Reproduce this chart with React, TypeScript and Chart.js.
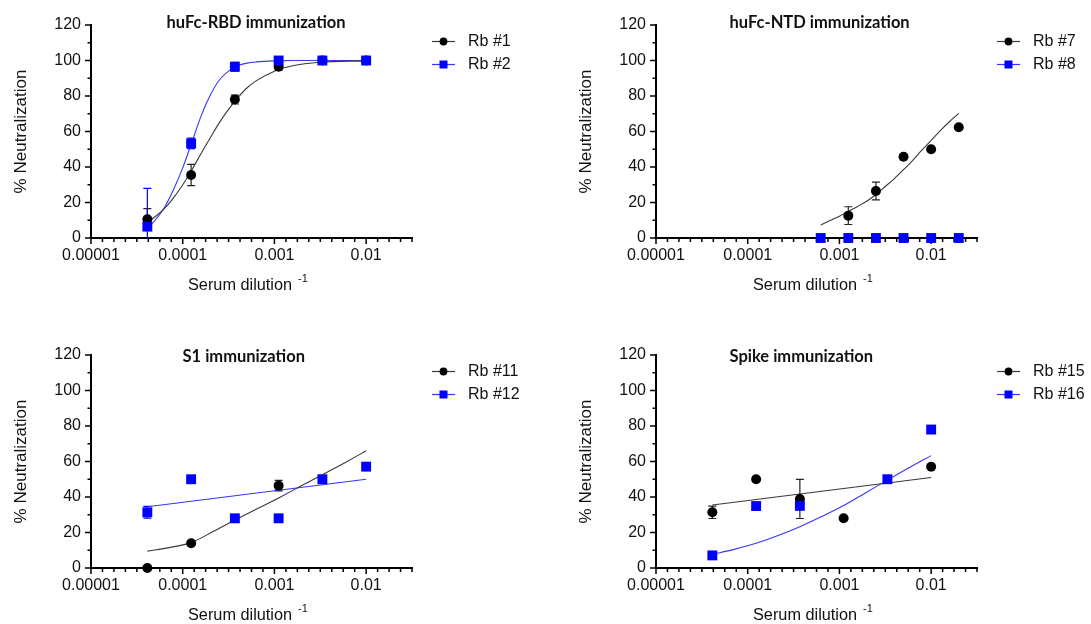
import React, { useEffect, useRef } from 'react';
import { Chart, registerables } from 'chart.js';

Chart.register(...registerables);

// ---------------- data ----------------
const dilution3 = [4.115e-5, 1.235e-4, 3.704e-4, 1.111e-3, 3.333e-3, 1.0e-2];
const dilution2 = [6.25e-4, 1.25e-3, 2.5e-3, 5.0e-3, 1.0e-2, 2.0e-2];

const decadeTicks = [1e-5, 1e-4, 1e-3, 1e-2];
const decadeLabels = ['0.00001', '0.0001', '0.001', '0.01'];
const yTickLabels = ['0', '20', '40', '60', '80', '100', '120'];

const titleRbd = 'huFc-RBD immunization';
const titleNtd = 'huFc-NTD immunization';
const titleS1 = 'S1 immunization';
const titleSpike = 'Spike immunization';

// huFc-RBD
const rb1 = [10.5, 35.5, 78, 96.5, 100, 100];
const rb1Err = [6, 6, 2.5, 2, 0, 0];
const rb2 = [6.4, 53.3, 96.5, 100, 100, 100];
const rb2Err = [21.6, 3, 2.5, 0, 0, 0];
const fitXRbd = [4.115e-5, 5.0e-5, 6.3e-5, 7.9e-5, 1.0e-4, 1.26e-4, 1.58e-4, 2.0e-4, 2.51e-4, 3.16e-4, 3.98e-4, 5.01e-4, 6.31e-4, 1.0e-3, 1.58e-3, 3.16e-3, 1.0e-2];
const fitRb1 = [9, 12, 16.5, 22.5, 30, 38.5, 47.5, 56.5, 65, 72.5, 79, 84.5, 88.5, 94, 97, 99, 99.8];
const fitRb2 = [5.5, 10, 17, 27, 39.5, 54, 68.5, 80.5, 89, 94, 97, 98.5, 99.2, 99.8, 100, 100, 100];

// huFc-NTD
const rb7 = [null, 12.6, 26.5, 45.8, 50, 62.4];
const rb7Err = [0, 5, 5, 0, 0, 0];
const rb8 = [0, 0, 0, 0, 0, 0];
const rb8Err = [0, 0, 0, 0, 0, 0];
const fitXNtd = [6.25e-4, 7.9e-4, 1.0e-3, 1.25e-3, 1.58e-3, 2.0e-3, 2.5e-3, 3.16e-3, 3.98e-3, 5.0e-3, 6.3e-3, 7.9e-3, 1.0e-2, 1.26e-2, 1.58e-2, 2.0e-2];
const fitRb7 = [7.3, 9.8, 12.3, 15, 17.8, 20.8, 24.5, 29, 33.5, 38.5, 43.8, 49.5, 55, 60.5, 65.5, 70.2];

// S1
const rb11 = [0, 13.9, null, 46.4, null, null];
const rb11Err = [0, 0, 0, 3, 0, 0];
const rb12 = [31.4, 50, 28, 28, 50, 57.1];
const rb12Err = [3.3, 0, 0, 0, 0, 0];
const fitXGrid = [4.115e-5, 7.1e-5, 1.235e-4, 2.14e-4, 3.704e-4, 6.4e-4, 1.111e-3, 1.92e-3, 3.333e-3, 5.8e-3, 1.0e-2];
const fitRb11 = [9.5, 11.5, 14.3, 20.5, 27, 33.2, 39.5, 46, 52.5, 59.2, 66];
const fitXLine = [4.115e-5, 1.0e-2];
const fitRb12 = [34.5, 50];

// Spike
const rb15 = [31.4, 50, 38.9, 28, null, 57];
const rb15Err = [3.5, 0, 11, 0, 0, 0];
const rb16 = [7.1, 34.9, 35, null, 50, 78];
const rb16Err = [0, 0, 0, 0, 0, 0];
const fitRb15 = [35.5, 51];
const fitRb16 = [7.7, 10.5, 13.9, 18.3, 23.3, 29, 35.2, 42.3, 49.5, 56.6, 63.3];

// ---------------- styling / layout ----------------
const X_MIN = 1e-5;
const X_MAX = Math.pow(10, -1.5);
const AREA = { left: 91, right: 412, top: 25, bottom: 238 };
const Y_BOX = 60;
const X_BOX = 40;
const SANS = "'Liberation Sans', Arial, sans-serif";
const TEXT = '#111';
const BLACK = '#000000';
const BLUE = '#0000ff';
const BLACK_FIT = '#3a3a3a';
const BLUE_FIT = '#3535ff';

type Series = {
  label: string;
  x: number[];
  y: (number | null)[];
  err: number[];
  marker: 'circle' | 'rect';
  color: string;
  fitX?: number[];
  fitY?: number[];
  fitColor: string;
};

type PanelCfg = {
  title: string;
  titleX: number;
  titleY: number;
  left: number;
  top: number;
  w: number;
  h: number;
  series: Series[];
};

const panels: PanelCfg[] = [
  {
    title: titleRbd, titleX: 166.5, titleY: 22.5, left: 0, top: 0, w: 565, h: 330,
    series: [
      { label: 'Rb #1', x: dilution3, y: rb1, err: rb1Err, marker: 'circle', color: BLACK, fitX: fitXRbd, fitY: fitRb1, fitColor: BLACK_FIT },
      { label: 'Rb #2', x: dilution3, y: rb2, err: rb2Err, marker: 'rect', color: BLUE, fitX: fitXRbd, fitY: fitRb2, fitColor: BLUE_FIT },
    ],
  },
  {
    title: titleNtd, titleX: 164.5, titleY: 22.5, left: 565, top: 0, w: 526, h: 330,
    series: [
      { label: 'Rb #7', x: dilution2, y: rb7, err: rb7Err, marker: 'circle', color: BLACK, fitX: fitXNtd, fitY: fitRb7, fitColor: BLACK_FIT },
      { label: 'Rb #8', x: dilution2, y: rb8, err: rb8Err, marker: 'rect', color: BLUE, fitColor: BLUE_FIT },
    ],
  },
  {
    title: titleS1, titleX: 182.5, titleY: 26.5, left: 0, top: 330, w: 565, h: 294,
    series: [
      { label: 'Rb #11', x: dilution3, y: rb11, err: rb11Err, marker: 'circle', color: BLACK, fitX: fitXGrid, fitY: fitRb11, fitColor: BLACK_FIT },
      { label: 'Rb #12', x: dilution3, y: rb12, err: rb12Err, marker: 'rect', color: BLUE, fitX: fitXLine, fitY: fitRb12, fitColor: BLUE_FIT },
    ],
  },
  {
    title: titleSpike, titleX: 164.5, titleY: 26.5, left: 565, top: 330, w: 526, h: 294,
    series: [
      { label: 'Rb #15', x: dilution3, y: rb15, err: rb15Err, marker: 'circle', color: BLACK, fitX: fitXLine, fitY: fitRb15, fitColor: BLACK_FIT },
      { label: 'Rb #16', x: dilution3, y: rb16, err: rb16Err, marker: 'rect', color: BLUE, fitX: fitXGrid, fitY: fitRb16, fitColor: BLUE_FIT },
    ],
  },
];

const isDecade = (v: number) => decadeTicks.some((d) => Math.abs(Math.log10(v) - Math.log10(d)) < 1e-6);

function buildXTicks() {
  const ticks: { value: number; major: boolean }[] = [];
  for (let e = -5; e <= -2; e++) {
    for (let k = 0; k < 8; k++) {
      const lg = e + k / 8;
      if (lg > -1.5 + 1e-9) break;
      ticks.push({ value: Math.pow(10, lg), major: k === 0 });
    }
  }
  ticks.push({ value: X_MAX, major: false });
  return ticks;
}

// ---------------- plugins ----------------
const axisTicksPlugin = {
  id: 'axisTicks',
  beforeDatasetsDraw(chart: any) {
    const { ctx, chartArea } = chart;
    const xs = chart.scales.x;
    const ys = chart.scales.y;
    ctx.save();
    ctx.strokeStyle = '#000';
    ctx.lineWidth = 1.5;
    ctx.beginPath();
    xs.ticks.forEach((t: any) => {
      const px = xs.getPixelForValue(t.value);
      const len = isDecade(t.value) ? 6 : 4;
      ctx.moveTo(px, chartArea.bottom);
      ctx.lineTo(px, chartArea.bottom + len);
    });
    ys.ticks.forEach((t: any) => {
      const py = ys.getPixelForValue(t.value);
      const len = t.value % 20 === 0 ? 6 : 3.5;
      ctx.moveTo(chartArea.left - len, py);
      ctx.lineTo(chartArea.left, py);
    });
    ctx.stroke();
    ctx.restore();
  },
};

const errorBarsPlugin = {
  id: 'errorBars',
  beforeDatasetsDraw(chart: any) {
    const { ctx, chartArea } = chart;
    const xs = chart.scales.x;
    const ys = chart.scales.y;
    ctx.save();
    ctx.beginPath();
    ctx.rect(chartArea.left, chartArea.top - 10, chartArea.right - chartArea.left, chartArea.bottom - chartArea.top + 10);
    ctx.clip();
    chart.data.datasets.forEach((ds: any) => {
      if (!ds.errColor) return;
      ctx.strokeStyle = ds.errColor;
      ctx.lineWidth = 1.2;
      ds.data.forEach((p: any) => {
        if (!p.e) return;
        const px = xs.getPixelForValue(p.x);
        const top = ys.getPixelForValue(p.y + p.e);
        const bot = ys.getPixelForValue(p.y - p.e);
        ctx.beginPath();
        ctx.moveTo(px, top);
        ctx.lineTo(px, bot);
        ctx.moveTo(px - 4, top);
        ctx.lineTo(px + 4, top);
        ctx.moveTo(px - 4, bot);
        ctx.lineTo(px + 4, bot);
        ctx.stroke();
      });
    });
    ctx.restore();
  },
};

const decorPlugin = {
  id: 'decor',
  afterDraw(chart: any, _args: any, opts: any) {
    const { ctx, chartArea } = chart;
    ctx.save();
    ctx.fillStyle = TEXT;
    // title
    ctx.font = "bold 16.5px Lato, 'Open Sans', sans-serif";
    ctx.textAlign = 'left';
    ctx.textBaseline = 'middle';
    ctx.fillText(opts.title, opts.titleX, opts.titleY);
    // y title
    ctx.save();
    ctx.translate(21, (chartArea.top + chartArea.bottom) / 2);
    ctx.rotate(-Math.PI / 2);
    ctx.textAlign = 'center';
    ctx.font = `17px ${SANS}`;
    ctx.fillText('% Neutralization', 0, 0);
    ctx.restore();
    // x title with superscript
    ctx.textAlign = 'left';
    ctx.font = `16.3px ${SANS}`;
    const main = 'Serum dilution';
    ctx.fillText(main, 188, 286);
    const mw = ctx.measureText(main).width;
    ctx.font = `11px ${SANS}`;
    ctx.fillText('-1', 188 + mw + 6, 279);
    // legend
    const rows = [41.5, 64.5];
    (opts.legend || []).forEach((item: any, i: number) => {
      const y = rows[i];
      ctx.strokeStyle = item.lineColor;
      ctx.lineWidth = 1.2;
      ctx.beginPath();
      ctx.moveTo(432, y);
      ctx.lineTo(455, y);
      ctx.stroke();
      ctx.fillStyle = item.color;
      if (item.marker === 'circle') {
        ctx.beginPath();
        ctx.arc(443.5, y, 3.9, 0, Math.PI * 2);
        ctx.fill();
      } else {
        ctx.fillRect(443.5 - 4, y - 4, 8, 8);
      }
      ctx.fillStyle = TEXT;
      ctx.font = `16px ${SANS}`;
      ctx.textBaseline = 'middle';
      ctx.fillText(item.label, 468, y);
    });
    ctx.restore();
  },
};

function buildConfig(cfg: PanelCfg): any {
  const datasets: any[] = [];
  cfg.series.forEach((s, si) => {
    if (s.fitX && s.fitY) {
      datasets.push({
        type: 'line',
        label: s.label + ' fit',
        data: s.fitX.map((x, j) => ({ x, y: s.fitY![j] })),
        borderColor: s.fitColor,
        borderWidth: 1.1,
        pointRadius: 0,
        fill: false,
        cubicInterpolationMode: 'monotone',
        order: 10,
        clip: false,
      });
    }
    const pts: any[] = [];
    s.x.forEach((x, j) => {
      const y = s.y[j];
      if (y === null || y === undefined) return;
      pts.push({ x, y, e: s.err[j] || 0 });
    });
    datasets.push({
      type: 'scatter',
      label: s.label,
      data: pts,
      pointStyle: s.marker,
      pointRadius: s.marker === 'circle' ? 5 : 7,
      backgroundColor: s.color,
      borderColor: s.color,
      pointBorderWidth: 0,
      showLine: false,
      order: si === 0 ? 2 : 1,
      clip: false,
      errColor: s.marker === 'circle' ? '#222' : BLUE,
    });
  });

  return {
    type: 'scatter',
    data: { datasets },
    options: {
      responsive: false,
      animation: false,
      devicePixelRatio: 1,
      events: [],
      layout: {
        padding: {
          left: AREA.left - Y_BOX,
          right: cfg.w - AREA.right,
          top: AREA.top,
          bottom: cfg.h - AREA.bottom - X_BOX,
        },
      },
      plugins: {
        legend: { display: false },
        title: { display: false },
        tooltip: { enabled: false },
        decor: {
          title: cfg.title,
          titleX: cfg.titleX,
          titleY: cfg.titleY,
          legend: cfg.series.map((s) => ({
            label: s.label,
            color: s.color,
            lineColor: s.fitColor,
            marker: s.marker,
          })),
        },
      },
      scales: {
        x: {
          type: 'logarithmic',
          min: X_MIN,
          max: X_MAX,
          afterBuildTicks: (scale: any) => {
            scale.ticks = buildXTicks();
          },
          afterFit: (scale: any) => {
            scale.height = X_BOX;
          },
          grid: { display: false, drawTicks: false },
          border: { display: true, color: '#000', width: 2 },
          ticks: {
            autoSkip: false,
            maxRotation: 0,
            minRotation: 0,
            padding: 8,
            color: TEXT,
            font: { family: SANS, size: 16 },
            callback: (value: any) => {
              const v = Number(value);
              const idx = decadeTicks.findIndex((d) => Math.abs(Math.log10(v) - Math.log10(d)) < 1e-6);
              return idx >= 0 ? decadeLabels[idx] : '';
            },
          },
        },
        y: {
          type: 'linear',
          min: 0,
          max: 120,
          afterFit: (scale: any) => {
            scale.width = Y_BOX;
          },
          grid: { display: false, drawTicks: false },
          border: { display: true, color: '#000', width: 2 },
          ticks: {
            stepSize: 10,
            autoSkip: false,
            padding: 10,
            color: TEXT,
            font: { family: SANS, size: 16 },
            callback: (value: any) => {
              const v = Number(value);
              return v % 20 === 0 ? yTickLabels[v / 20] : '';
            },
          },
        },
      },
    },
    plugins: [axisTicksPlugin, errorBarsPlugin, decorPlugin],
  };
}

function Panel({ cfg }: { cfg: PanelCfg }) {
  const ref = useRef<HTMLCanvasElement>(null);
  useEffect(() => {
    if (!ref.current) return;
    const chart = new Chart(ref.current, buildConfig(cfg));
    return () => chart.destroy();
  }, [cfg]);
  return (
    <canvas
      ref={ref}
      width={cfg.w}
      height={cfg.h}
      style={{ position: 'absolute', left: cfg.left, top: cfg.top, width: cfg.w, height: cfg.h }}
    />
  );
}

export default function App() {
  return (
    <div style={{ position: 'absolute', left: 0, top: 0, width: 1091, height: 624, background: '#fff', overflow: 'hidden' }}>
      {panels.map((p, i) => (
        <Panel key={i} cfg={p} />
      ))}
    </div>
  );
}
